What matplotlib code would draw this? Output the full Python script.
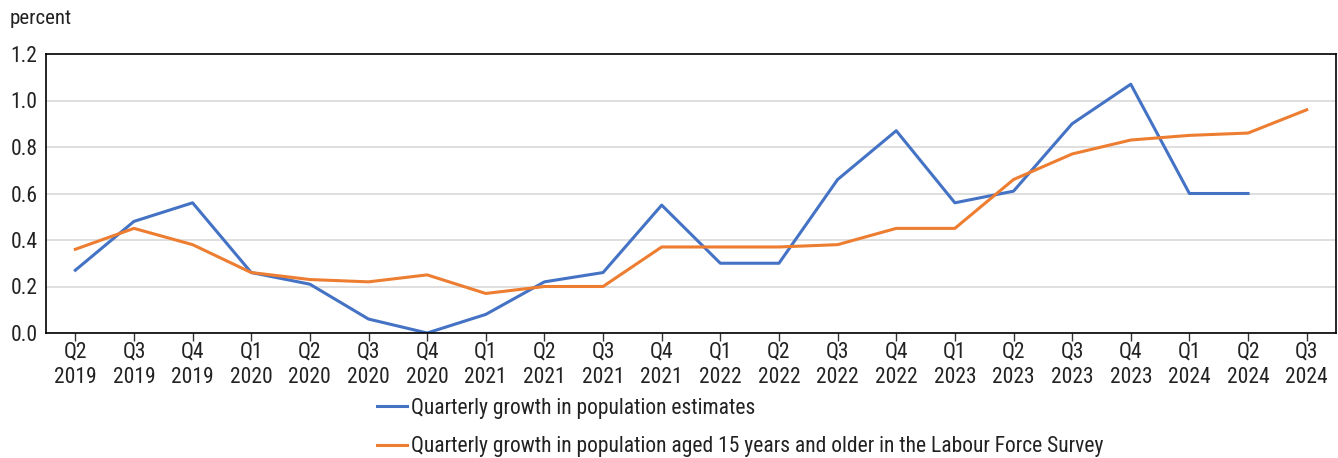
import matplotlib
matplotlib.use("Agg")
import matplotlib.pyplot as plt
import numpy as np
from matplotlib import font_manager

names = sorted({f.name for f in font_manager.fontManager.ttflist})
fam = "Roboto"
for cand in ["Roboto Condensed", "Liberation Sans Narrow", "Open Sans Condensed", "DejaVu Sans Condensed"]:
    if cand in names:
        fam = cand
        break
plt.rcParams['font.family'] = [fam, 'DejaVu Sans']

quarters = ["Q2", "Q3", "Q4", "Q1", "Q2", "Q3", "Q4", "Q1", "Q2", "Q3", "Q4",
            "Q1", "Q2", "Q3", "Q4", "Q1", "Q2", "Q3", "Q4", "Q1", "Q2", "Q3"]
years = ["2019", "2019", "2019", "2020", "2020", "2020", "2020", "2021", "2021", "2021", "2021",
         "2022", "2022", "2022", "2022", "2023", "2023", "2023", "2023", "2024", "2024", "2024"]
pop_estimates = [0.27, 0.48, 0.56, 0.26, 0.21, 0.06, 0.00, 0.08, 0.22, 0.26, 0.55,
                 0.30, 0.30, 0.66, 0.87, 0.56, 0.61, 0.90, 1.07, 0.60, 0.60, np.nan]
lfs_pop = [0.36, 0.45, 0.38, 0.26, 0.23, 0.22, 0.25, 0.17, 0.20, 0.20, 0.37,
           0.37, 0.37, 0.38, 0.45, 0.45, 0.66, 0.77, 0.83, 0.85, 0.86, 0.96]
labels = ["Quarterly growth in population estimates",
          "Quarterly growth in population aged 15 years and older in the Labour Force Survey"]

fig = plt.figure(figsize=(13.38, 4.58), dpi=100)
ax = fig.add_axes([46/1338, 1-333/458, (1336-46)/1338, (333-54)/458])
x = np.arange(len(quarters))
ax.plot(x, pop_estimates, color="#4472C4", lw=2.2, label=labels[0])
ax.plot(x, lfs_pop, color="#ED7D31", lw=2.2, label=labels[1])

ax.set_xlim(-0.5, len(quarters) - 0.5)
ax.set_ylim(0, 1.2)
ax.set_yticks(np.arange(0, 1.21, 0.2))
ax.set_yticklabels([f"{v:.1f}" for v in np.arange(0, 1.21, 0.2)], fontsize=15.5, color="#222222")
ax.set_xticks(x)
ax.set_xticklabels([f"{q}\n{y}" for q, y in zip(quarters, years)], fontsize=15.5, color="#222222",
                   linespacing=1.3)
ax.tick_params(axis='y', length=0, pad=6)
ax.tick_params(axis='x', length=6, width=1, color="#333333", pad=0)
ax.grid(axis='y', color="#d9d9d9", lw=1.2)
ax.set_axisbelow(True)
for s in ax.spines.values():
    s.set_color("black")
    s.set_linewidth(1.2)

fig.text(10/1338, 1-18/458, "percent", fontsize=15, color="#222222", va="center", ha="left")

leg = fig.legend(loc="upper left", bbox_to_anchor=(377/1338, 1-398/458), frameon=False,
                 fontsize=15.5, handlelength=1.4, handletextpad=0.2, labelspacing=0.8,
                 labelcolor="#222222", borderaxespad=0, borderpad=0)
fig.savefig("out.png", dpi=100)
